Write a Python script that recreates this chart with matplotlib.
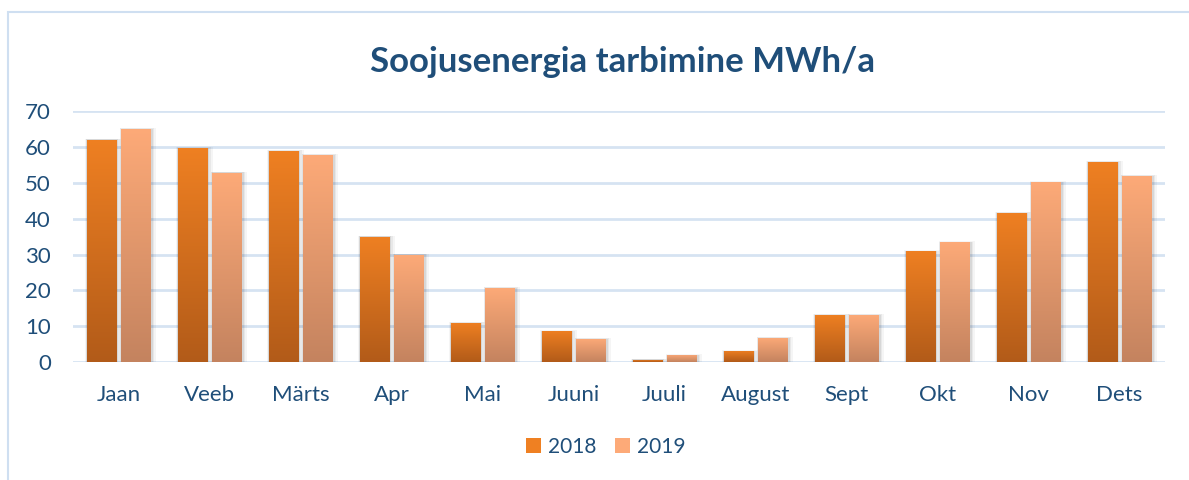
import numpy as np
import matplotlib
matplotlib.use("Agg")
import matplotlib.pyplot as plt
from matplotlib.patches import Rectangle
from matplotlib.colors import LinearSegmentedColormap

months = ["Jaan", "Veeb", "Märts", "Apr", "Mai", "Juuni", "Juuli",
          "August", "Sept", "Okt", "Nov", "Dets"]
y2018 = [62, 59.7, 58.9, 35, 11, 8.7, 0.7, 3.1, 13.2, 31, 41.6, 55.8]
y2019 = [65, 52.8, 57.8, 30, 20.7, 6.5, 2.0, 6.8, 13.2, 33.5, 50.2, 51.9]
yticks = [0, 10, 20, 30, 40, 50, 60, 70]

blue = "#1F4E79"
grid_c = "#D6E3F2"
c18 = ("#EF8022", "#B25B19")   # top, bottom
c19 = ("#FDAA78", "#C4835F")

plt.rcParams['font.family'] = ['Lato', 'DejaVu Sans']

fig = plt.figure(figsize=(11.89, 4.8), dpi=100)
# outer chart border (light blue, runs off right/bottom)
fig.patches.append(Rectangle((8 / 1189, -0.05), 1.2, 1 - 12 / 480 + 0.05,
                             transform=fig.transFigure, fill=False,
                             ec="#CFDFF1", lw=1.5))

ax = fig.add_axes([73 / 1189, 1 - 362.3 / 480, (1165 - 73) / 1189, (362.3 - 111) / 480])
x = np.arange(len(months))
w = 0.32
off = 0.19


def grad_bars(xs, vals, cols):
    cmap = LinearSegmentedColormap.from_list("g", [cols[1], cols[0]])
    grad = np.linspace(0, 1, 256).reshape(-1, 1)
    for xi, v in zip(xs, vals):
        # soft shadow
        for k, a in zip([0.05, 0.035, 0.02], [0.04, 0.05, 0.07]):
            ax.add_patch(Rectangle((xi - w / 2 - k * 0.3, -0.6), w + k * 1.6, v + 0.6 + k * 4,
                                   fc="black", alpha=a, lw=0, zorder=2))
        bar = ax.bar(xi, v, w, color=cols[0], zorder=3, lw=0)[0]
        im = ax.imshow(grad, cmap=cmap, aspect="auto", origin="lower",
                       extent=(xi - w / 2, xi + w / 2, 0, v), zorder=3.5)
        im.set_clip_path(bar)


grad_bars(x - off, y2018, c18)
grad_bars(x + off, y2019, c19)

ax.set_xlim(-0.5, len(months) - 0.5)
ax.set_ylim(0, 70)
ax.set_yticks(yticks)
ax.set_xticks(x)
ax.set_xticklabels(months)
ax.grid(axis="y", color=grid_c, lw=2, zorder=0)
ax.set_axisbelow(True)
for s in ax.spines.values():
    s.set_visible(False)
ax.tick_params(length=0, labelsize=16, colors=blue)
ax.tick_params(axis="x", pad=16)
ax.tick_params(axis="y", pad=16)

fig.text(623 / 1189, 1 - 62 / 480, "Soojusenergia tarbimine MWh/a", ha="center",
         va="center", fontsize=25, fontweight="bold", color=blue)

# legend
h1 = Rectangle((0, 0), 1, 1, fc=c18[0])
h2 = Rectangle((0, 0), 1, 1, fc=c19[0])
fig.legend([h1, h2], ["2018", "2019"], loc="center", bbox_to_anchor=(606 / 1189, 1 - 447 / 480),
           ncol=2, frameon=False, fontsize=15, labelcolor=blue,
           handlelength=0.7, handleheight=0.7, handletextpad=0.35, columnspacing=0.9)

fig.savefig("out.png", dpi=100)
